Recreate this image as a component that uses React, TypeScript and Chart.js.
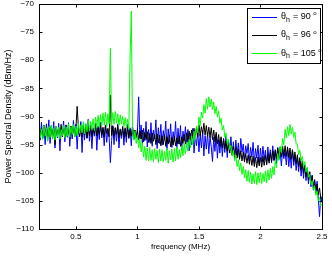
import React, { useEffect, useRef } from "react";
import { Chart, registerables } from "chart.js";

Chart.register(...registerables);

// frequency grid (MHz): start and step of the sampled spectra
const F_START = 0.2;
const F_STEP = 0.01;

const X_TICKS = [0.5, 1, 1.5, 2, 2.5];
const Y_TICKS = [-110, -105, -100, -95, -90, -85, -80, -75, -70];

const LABELS = ["90", "96", "105"];
const COLORS = ["#0000ff", "#000000", "#00ff00"];

const BLUE = [
  -91.6, -94.2, -91.0, -93.9, -91.8, -95.0, -91.3, -93.6, -90.6, -94.8,
  -91.9, -93.4, -90.9, -95.6, -91.7, -93.8, -91.2, -96.1, -92.0, -93.3,
  -90.8, -94.5, -91.5, -93.7, -91.1, -95.3, -92.2, -94.0, -90.7, -93.5,
  -91.4, -95.8, -91.9, -93.6, -90.9, -96.4, -91.6, -94.2, -91.3, -93.9,
  -90.5, -94.4, -91.8, -95.7, -92.0, -93.5, -91.2, -96.0, -91.7, -94.1,
  -91.0, -93.8, -92.1, -95.2, -91.5, -94.6, -92.3, -93.7, -98.2, -94.3,
  -91.6, -95.0, -92.0, -94.4, -91.3, -95.6, -92.4, -93.9, -91.8, -95.1,
  -92.2, -94.6, -91.4, -93.8, -92.0, -95.2, -91.6, -94.1, -92.5, -93.6,
  -92.8, -86.5, -93.9, -91.5, -95.0, -92.1, -94.3, -90.9, -95.4, -92.3,
  -94.6, -91.1, -95.3, -92.4, -94.0, -90.6, -95.7, -92.0, -94.8, -91.4,
  -95.1, -92.5, -94.2, -90.8, -95.9, -92.2, -94.6, -91.3, -95.5, -92.7,
  -94.4, -90.9, -95.8, -92.1, -94.9, -91.6, -96.0, -92.6, -94.3, -91.8,
  -95.4, -92.3, -96.1, -93.0, -95.0, -92.1, -96.5, -93.3, -95.2, -92.6,
  -96.3, -93.1, -95.6, -92.5, -97.0, -93.4, -95.8, -92.9, -96.6, -93.6,
  -95.4, -98.0, -93.7, -96.2, -93.2, -97.4, -94.1, -96.5, -93.8, -97.1,
  -94.0, -96.4, -93.5, -97.3, -94.4, -96.0, -93.6, -96.8, -94.5, -97.5,
  -94.2, -96.9, -94.7, -97.6, -93.9, -96.3, -94.9, -97.8, -95.2, -96.6,
  -94.8, -97.9, -95.5, -97.2, -94.6, -98.3, -95.7, -97.4, -95.1, -98.5,
  -95.6, -98.1, -95.3, -97.7, -96.0, -98.6, -95.4, -97.9, -95.9, -98.2,
  -95.2, -97.8, -96.1, -98.4, -95.5, -97.6, -96.3, -98.8, -95.8, -97.5,
  -96.2, -98.6, -95.7, -98.9, -96.5, -99.2, -96.0, -98.7, -96.8, -99.6,
  -97.2, -99.8, -97.6, -100.6, -98.3, -101.0, -98.6, -101.4, -99.2, -102.0,
  -99.8, -102.5, -100.4, -103.1, -101.2, -103.8, -101.5, -104.6, -107.8, -104.2,
  -105.3,
];

const BLACK = [
  -91.7, -93.4, -92.0, -93.8, -91.5, -93.2, -91.9, -94.3, -92.1, -93.5,
  -91.6, -93.9, -92.2, -95.0, -91.8, -93.3, -92.0, -93.7, -91.4, -93.6,
  -92.0, -93.8, -91.5, -93.4, -92.3, -93.9, -91.7, -93.2, -91.9, -93.6,
  -92.1, -88.2, -91.8, -93.5, -92.0, -93.7, -91.6, -93.3, -91.9, -93.8,
  -91.8, -93.4, -91.5, -93.6, -92.2, -93.1, -91.4, -93.5, -91.9, -93.2,
  -91.6, -93.3, -91.9, -93.7, -91.5, -93.0, -92.1, -93.6, -86.2, -93.4,
  -91.7, -93.5, -92.0, -93.2, -91.6, -93.8, -92.2, -93.4, -91.8, -93.7,
  -92.0, -93.6, -91.7, -93.9, -92.3, -93.5, -91.9, -94.0, -92.4, -93.8,
  -92.3, -94.2, -92.6, -94.0, -92.4, -94.5, -92.8, -94.1, -92.7, -94.6,
  -93.0, -94.8, -92.9, -94.4, -93.2, -95.0, -93.1, -94.7, -93.3, -95.2,
  -93.4, -95.0, -93.2, -95.3, -93.6, -94.9, -93.3, -95.4, -93.7, -95.1,
  -93.5, -95.2, -93.8, -94.9, -93.4, -95.3, -93.6, -94.8, -93.2, -94.9,
  -92.9, -94.5, -92.6, -94.2, -92.4, -93.9, -92.1, -93.8, -91.9, -93.6,
  -91.5, -93.4, -91.8, -93.1, -91.2, -93.3, -91.6, -93.5, -91.9, -93.7,
  -92.0, -94.1, -92.4, -94.5, -92.8, -94.9, -93.2, -95.3, -93.6, -95.6,
  -93.9, -95.8, -94.3, -96.2, -94.7, -96.5, -95.0, -96.9, -95.3, -97.1,
  -95.5, -97.4, -95.8, -97.6, -96.1, -97.9, -96.3, -98.1, -96.6, -98.3,
  -96.8, -98.5, -97.0, -98.7, -97.1, -98.9, -97.3, -99.1, -97.2, -98.8,
  -97.3, -99.0, -97.1, -98.7, -96.9, -98.5, -96.7, -98.3, -96.4, -98.0,
  -96.1, -97.8, -95.9, -97.5, -95.6, -97.3, -95.4, -97.2, -95.3, -97.0,
  -95.2, -97.1, -95.4, -97.3, -95.6, -97.6, -95.9, -98.0, -96.3, -98.4,
  -96.8, -98.9, -97.3, -99.5, -97.9, -100.1, -98.6, -100.7, -99.2, -101.3,
  -99.9, -101.9, -100.6, -102.6, -101.3, -103.2, -102.0, -103.9, -102.7, -104.6,
  -104.4,
];

const GREEN = [
  -91.9, -93.8, -92.2, -94.1, -91.6, -93.5, -92.0, -94.4, -91.8, -93.7,
  -91.5, -93.9, -92.1, -94.2, -91.7, -93.6, -91.9, -94.0, -92.3, -93.4,
  -91.6, -93.8, -91.8, -93.5, -91.3, -93.7, -91.9, -93.2, -91.4, -93.6,
  -91.7, -93.4, -91.2, -93.0, -91.5, -92.9, -90.9, -93.1, -91.3, -92.7,
  -90.6, -92.6, -90.9, -92.3, -90.4, -92.5, -90.1, -92.0, -89.8, -91.9,
  -89.6, -91.7, -89.4, -91.5, -89.2, -91.8, -89.5, -91.3, -77.9, -91.6,
  -89.3, -91.4, -89.1, -91.2, -89.5, -91.6, -89.7, -91.3, -90.0, -91.8,
  -90.2, -92.0, -90.5, -92.3, -79.6, -71.3, -92.0, -94.2, -92.6, -94.8,
  -93.4, -95.6, -94.0, -96.3, -94.7, -97.2, -95.3, -97.8, -95.6, -97.9,
  -95.5, -97.8, -95.9, -98.1, -95.7, -97.6, -96.0, -98.2, -95.8, -97.9,
  -95.9, -98.0, -96.2, -97.8, -95.6, -98.3, -96.1, -97.7, -95.8, -98.1,
  -95.7, -97.9, -95.4, -97.6, -95.9, -97.3, -95.2, -97.0, -94.8, -96.6,
  -94.6, -96.2, -94.1, -95.6, -93.5, -95.0, -92.6, -94.2, -91.7, -92.9,
  -90.1, -91.6, -89.2, -90.3, -87.9, -89.4, -86.8, -88.7, -86.5, -88.3,
  -86.9, -88.8, -87.4, -89.5, -88.2, -90.1, -89.0, -91.2, -90.3, -92.4,
  -91.6, -93.7, -92.9, -94.8, -94.0, -95.9, -95.1, -97.0, -96.0, -97.9,
  -96.9, -98.9, -97.7, -99.6, -98.3, -100.3, -98.9, -100.9, -99.4, -101.5,
  -99.6, -101.7, -99.9, -102.0, -100.2, -101.9, -99.8, -102.1, -100.0, -101.8,
  -99.9, -101.9, -100.1, -101.6, -99.7, -101.8, -99.5, -101.3, -99.2, -101.0,
  -98.9, -100.4, -97.9, -99.1, -96.6, -97.8, -95.3, -96.4, -93.9, -95.0,
  -92.3, -93.8, -91.8, -93.4, -91.4, -93.1, -91.9, -93.7, -92.8, -94.9,
  -94.9, -96.8, -96.0, -97.9, -97.1, -98.9, -98.0, -99.9, -99.0, -100.8,
  -100.3, -102.1, -101.4, -103.0, -102.4, -104.0, -103.3, -105.0, -104.4, -105.9,
  -105.6,
];

const SERIES = [BLUE, BLACK, GREEN];
const FONT = "'Liberation Sans', Arial, Helvetica, sans-serif";

const toPoints = (vals: number[]) =>
  vals.map((y, i) => ({ x: +(F_START + i * F_STEP).toFixed(2), y }));

const framePlugin = {
  id: "frame",
  afterDraw(chart: any) {
    const { ctx, chartArea: a, scales } = chart;
    ctx.save();
    ctx.strokeStyle = "#000";
    ctx.lineWidth = 1;
    const L = a.left + 0.5, R = a.right + 0.5, T = a.top + 0.5, B = a.bottom + 0.5;
    ctx.strokeRect(L, T, R - L, B - T);
    const tl = 3;
    ctx.beginPath();
    for (const v of X_TICKS) {
      const px = Math.round(scales.x.getPixelForValue(v)) + 0.5;
      ctx.moveTo(px, B); ctx.lineTo(px, B - tl);
      ctx.moveTo(px, T); ctx.lineTo(px, T + tl);
    }
    for (const v of Y_TICKS) {
      const py = Math.round(scales.y.getPixelForValue(v)) + 0.5;
      ctx.moveTo(L, py); ctx.lineTo(L + tl, py);
      ctx.moveTo(R, py); ctx.lineTo(R - tl, py);
    }
    ctx.stroke();

    // legend
    const bx = 247.5, by = 8.5, bw = 73, bh = 55;
    ctx.fillStyle = "#fff";
    ctx.fillRect(bx, by, bw, bh);
    ctx.strokeStyle = "#000";
    ctx.strokeRect(bx, by, bw, bh);
    const rows = [16.7, 35, 53.3];
    LABELS.forEach((lab, i) => {
      const y = rows[i];
      ctx.strokeStyle = COLORS[i];
      ctx.lineWidth = 1;
      ctx.beginPath();
      ctx.moveTo(252, Math.round(y) + 0.5);
      ctx.lineTo(277, Math.round(y) + 0.5);
      ctx.stroke();
      ctx.fillStyle = "#000";
      ctx.textBaseline = "middle";
      ctx.textAlign = "left";
      let x = 281;
      ctx.font = `9px ${FONT}`;
      ctx.fillText("θ", x, y);
      x += ctx.measureText("θ").width;
      ctx.font = `7px ${FONT}`;
      ctx.fillText("h", x, y + 3);
      x += ctx.measureText("h").width + 0.5;
      ctx.font = `9px ${FONT}`;
      const t = " = " + lab + " ";
      ctx.fillText(t, x, y);
      x += ctx.measureText(t).width;
      ctx.font = `6px ${FONT}`;
      ctx.fillText("o", x, y - 3);
    });
    ctx.restore();
  },
};

export default function App() {
  const ref = useRef<HTMLCanvasElement>(null);
  useEffect(() => {
    document.body.style.margin = "0";
    const datasets = SERIES.map((vals, i) => ({
      label: LABELS[i],
      data: toPoints(vals),
      borderColor: COLORS[i],
      backgroundColor: COLORS[i],
      borderWidth: 1,
      pointRadius: 0,
      tension: 0,
      order: 3 - i,
    }));
    const chart = new Chart(ref.current as HTMLCanvasElement, {
      type: "line",
      data: { datasets },
      options: {
        animation: false,
        responsive: false,
        events: [],
        layout: { padding: { top: 4, right: 10, left: 0, bottom: 0 } },
        plugins: { legend: { display: false }, tooltip: { enabled: false } },
        scales: {
          x: {
            type: "linear",
            min: 0.2,
            max: 2.5,
            afterBuildTicks: (s: any) => {
              s.ticks = X_TICKS.map((v) => ({ value: v }));
            },
            afterFit: (s: any) => {
              s.height = 27;
              s.paddingLeft = 0;
              s.paddingRight = 0;
            },
            grid: { display: false, drawTicks: false },
            border: { display: false },
            ticks: {
              color: "#000",
              padding: 3,
              maxRotation: 0,
              autoSkip: false,
              font: { family: FONT, size: 8 },
              callback: (v: any) => String(v),
            },
            title: {
              display: true,
              text: "frequency (MHz)",
              color: "#000",
              font: { family: FONT, size: 8 },
              padding: { top: 0, bottom: 4 },
            },
          },
          y: {
            type: "linear",
            min: -110,
            max: -70,
            afterBuildTicks: (s: any) => {
              s.ticks = Y_TICKS.map((v) => ({ value: v }));
            },
            afterFit: (s: any) => {
              s.width = 39;
              s.paddingTop = 0;
              s.paddingBottom = 0;
            },
            grid: { display: false, drawTicks: false },
            border: { display: false },
            ticks: {
              color: "#000",
              padding: 5,
              autoSkip: false,
              font: { family: FONT, size: 8 },
              callback: (v: any) => (v < 0 ? "\u2212" + Math.abs(v) : String(v)),
            },
            title: {
              display: true,
              text: "Power Spectral Density (dBm/Hz)",
              color: "#000",
              font: { family: FONT, size: 9 },
              padding: { top: 3, bottom: 0 },
            },
          },
        },
      },
      plugins: [framePlugin],
    });
    return () => chart.destroy();
  }, []);
  return (
    <div style={{ width: 332, height: 256 }}>
      <canvas ref={ref} width={332} height={256} style={{ display: "block" }} />
    </div>
  );
}
